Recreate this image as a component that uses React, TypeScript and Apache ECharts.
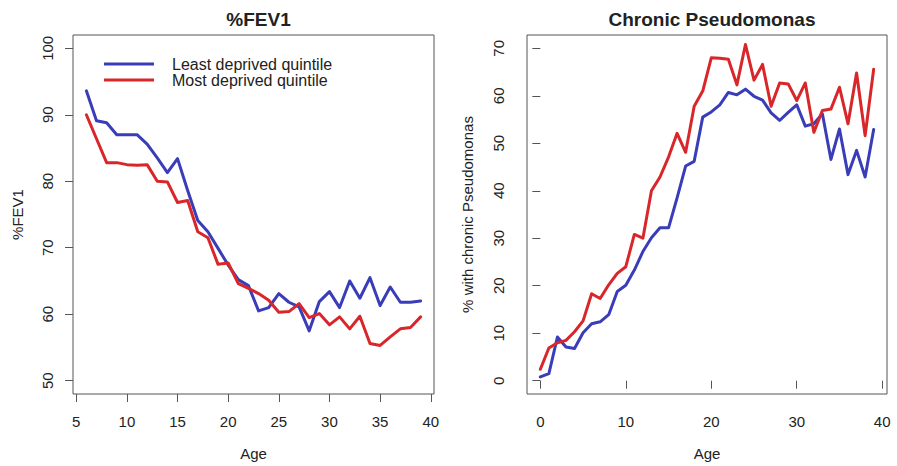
import React, { useEffect, useRef } from "react";
import * as echarts from "echarts";

const agesFev = [6, 7, 8, 9, 10, 11, 12, 13, 14, 15, 16, 17, 18, 19, 20, 21, 22, 23, 24, 25, 26, 27, 28, 29, 30, 31, 32, 33, 34, 35, 36, 37, 38, 39];
const fevLeast = [93.6, 89.1, 88.8, 87.0, 87.0, 87.0, 85.6, 83.5, 81.3, 83.4, 78.6, 74.1, 72.4, 69.9, 67.4, 65.2, 64.3, 60.5, 61.0, 63.1, 61.8, 61.1, 57.5, 61.9, 63.4, 61.0, 65.0, 62.4, 65.5, 61.3, 64.1, 61.8, 61.8, 62.0];
const fevMost = [90.0, 86.4, 82.8, 82.8, 82.5, 82.4, 82.5, 80.0, 79.9, 76.8, 77.1, 72.4, 71.5, 67.5, 67.7, 64.6, 63.9, 63.1, 62.1, 60.3, 60.4, 61.6, 59.5, 60.1, 58.4, 59.6, 57.8, 59.7, 55.6, 55.3, 56.6, 57.8, 58.0, 59.6];

const agesPseudo = [0, 1, 2, 3, 4, 5, 6, 7, 8, 9, 10, 11, 12, 13, 14, 15, 16, 17, 18, 19, 20, 21, 22, 23, 24, 25, 26, 27, 28, 29, 30, 31, 32, 33, 34, 35, 36, 37, 38, 39];
const pseudoLeast = [0.8, 1.5, 9.2, 7.1, 6.8, 10.1, 12.0, 12.4, 13.9, 18.8, 20.1, 23.3, 27.2, 30.1, 32.2, 32.2, 38.5, 45.2, 46.2, 55.5, 56.6, 58.1, 60.7, 60.2, 61.4, 59.9, 59.1, 56.4, 54.8, 56.5, 58.1, 53.6, 54.1, 56.2, 46.6, 53.0, 43.4, 48.5, 42.9, 52.9];
const pseudoMost = [2.4, 6.9, 8.0, 8.5, 10.3, 12.6, 18.3, 17.3, 20.2, 22.6, 24.0, 30.8, 30.0, 40.0, 42.9, 47.1, 52.1, 48.1, 57.8, 61.0, 68.0, 67.9, 67.7, 62.3, 70.8, 63.3, 66.6, 57.8, 62.7, 62.5, 59.0, 62.7, 52.3, 56.9, 57.2, 61.8, 54.1, 64.8, 51.6, 65.6];

const fevXTicks = [5, 10, 15, 20, 25, 30, 35, 40];
const fevYTicks = [50, 60, 70, 80, 90, 100];
const pseudoXTicks = [0, 10, 20, 30, 40];
const pseudoYTicks = [0, 10, 20, 30, 40, 50, 60, 70];

const LEAST = "Least deprived quintile";
const MOST = "Most deprived quintile";
const BLUE = "#3a3db8";
const RED = "#d9262a";
const FONT = "Liberation Sans, Arial, Helvetica, sans-serif";
const TXT = "#222";
const AX = "#555";

function xAxisOf(grid: number, min: number, max: number, ticks: number[]) {
  return {
    type: "value",
    gridIndex: grid,
    min,
    max,
    name: "Age",
    nameLocation: "middle",
    nameGap: 52,
    nameTextStyle: { fontFamily: FONT, fontSize: 15, color: TXT },
    axisLine: { show: false },
    axisTick: { show: true, customValues: ticks, length: 8, lineStyle: { color: AX, width: 1 } },
    axisLabel: { customValues: ticks, fontFamily: FONT, fontSize: 15, color: TXT, margin: 20 },
    splitLine: { show: false },
  };
}

function yAxisOf(grid: number, min: number, max: number, ticks: number[], name: string, nameGap: number, labelMargin: number) {
  return {
    type: "value",
    gridIndex: grid,
    min,
    max,
    name,
    nameLocation: "middle",
    nameGap,
    nameTextStyle: { fontFamily: FONT, fontSize: 15, color: TXT },
    axisLine: { show: false },
    axisTick: { show: true, customValues: ticks, length: 8, lineStyle: { color: AX, width: 1 } },
    axisLabel: { customValues: ticks, rotate: 90, fontFamily: FONT, fontSize: 15, color: TXT, margin: labelMargin },
    splitLine: { show: false },
  };
}

function lineSeries(name: string, color: string, idx: number, xs: number[], ys: number[]) {
  return {
    type: "line",
    name,
    xAxisIndex: idx,
    yAxisIndex: idx,
    data: xs.map((x, i) => [x, ys[i]]),
    showSymbol: false,
    symbol: "none",
    lineStyle: { color, width: 3, join: "round", cap: "round" },
    itemStyle: { color },
    z: color === RED ? 3 : 2,
  };
}

export default function App() {
  const ref = useRef<HTMLDivElement>(null);
  useEffect(() => {
    if (!ref.current) return;
    const chart = echarts.init(ref.current, null, { renderer: "svg" });
    chart.setOption({
      animation: false,
      backgroundColor: "#ffffff",
      title: [
        { text: "%FEV1", left: 253.5, top: 5, textAlign: "center", textStyle: { fontFamily: FONT, fontSize: 19, fontWeight: "bold", color: TXT } },
        { text: "Chronic Pseudomonas", left: 707, top: 5, textAlign: "center", textStyle: { fontFamily: FONT, fontSize: 19, fontWeight: "bold", color: TXT } },
      ],
      legend: {
        orient: "vertical",
        left: 99,
        top: 51,
        itemWidth: 50,
        itemHeight: 3,
        itemGap: 0,
        icon: "rect",
        data: [LEAST, MOST],
        selectedMode: false,
        textStyle: { fontFamily: FONT, fontSize: 16, color: TXT, lineHeight: 14, padding: [0, 0, 0, 13] },
      },
      grid: [
        { left: 73, top: 35, width: 361, height: 361, show: true, borderColor: AX, borderWidth: 1, backgroundColor: "transparent" },
        { left: 527, top: 35, width: 360, height: 361, show: true, borderColor: AX, borderWidth: 1, backgroundColor: "transparent" },
      ],
      xAxis: [xAxisOf(0, 4.68, 40.32, fevXTicks), xAxisOf(1, -1.56, 40.56, pseudoXTicks)],
      yAxis: [
        yAxisOf(0, 48, 102, fevYTicks, "%FEV1", 48, 18),
        yAxisOf(1, -2.8, 72.8, pseudoYTicks, "% with chronic Pseudomonas", 52, 21),
      ],
      series: [
        lineSeries(LEAST, BLUE, 0, agesFev, fevLeast),
        lineSeries(MOST, RED, 0, agesFev, fevMost),
        lineSeries(LEAST, BLUE, 1, agesPseudo, pseudoLeast),
        lineSeries(MOST, RED, 1, agesPseudo, pseudoMost),
      ],
    });
    return () => chart.dispose();
  }, []);
  return <div ref={ref} style={{ position: "absolute", left: 0, top: 0, width: 897, height: 466, background: "#fff" }} />;
}
